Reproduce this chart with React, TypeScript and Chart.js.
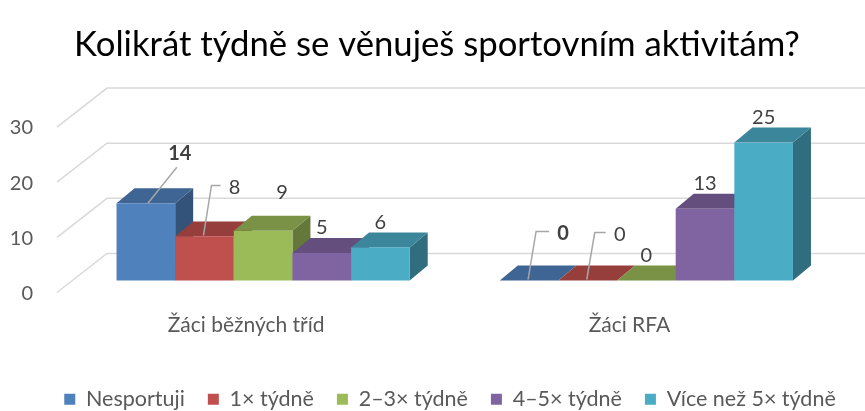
import React, { useEffect, useRef } from "react";
import { Chart, registerables } from "chart.js";

Chart.register(...registerables);

const TITLE = "Kolikrát týdně se věnuješ sportovním aktivitám?";
const categories = ["Žáci běžných tříd", "Žáci RFA"];
const seriesNames = ["Nesportuji", "1× týdně", "2–3× týdně", "4–5× týdně", "Více než 5× týdně"];
const nesportuji = [14, 0];
const jednou = [8, 0];
const dvaTri = [9, 0];
const ctyriPet = [5, 13];
const viceNez5 = [6, 25];
const seriesValues = [nesportuji, jednou, dvaTri, ctyriPet, viceNez5];
const seriesColors = ["#4F81BD", "#C0504D", "#9BBB59", "#8064A2", "#4BACC6"];
const yTicks = [0, 10, 20, 30];

// label placement tweaks (styling only): [dataset][category]
type LabelStyle = { dx: number; dy: number; bold?: boolean; leader?: "line" | "elbow" };
const labelStyles: LabelStyle[][] = [
  [{ dx: 34, dy: -50, bold: true, leader: "line" }, { dx: 34, dy: -47, bold: true, leader: "elbow" }],
  [{ dx: 30, dy: -49, leader: "elbow" }, { dx: 32, dy: -46, leader: "elbow" }],
  [{ dx: 19, dy: -38 }, { dx: 0, dy: -25 }],
  [{ dx: 0, dy: -25 }, { dx: 0, dy: -25 }],
  [{ dx: 0, dy: -25 }, { dx: 0, dy: -25 }],
];

const DEPTH_X = 18;
const DEPTH_Y = 15;
const TITLE_SHIFT = 13;
const LEGEND_SHIFT = 26;

function shade(hex: string, f: number) {
  const n = parseInt(hex.slice(1), 16);
  const r = Math.round(((n >> 16) & 255) * f);
  const g = Math.round(((n >> 8) & 255) * f);
  const b = Math.round((n & 255) * f);
  return `rgb(${r},${g},${b})`;
}

const shiftBlocks = {
  id: "shiftBlocks",
  afterLayout(chart: any) {
    if (chart.titleBlock) {
      chart.titleBlock.left += TITLE_SHIFT;
      chart.titleBlock.right += TITLE_SHIFT;
    }
    if (chart.legend) {
      chart.legend.left += LEGEND_SHIFT;
      chart.legend.right += LEGEND_SHIFT;
    }
  },
};

const grid3d = {
  id: "grid3d",
  beforeDatasetsDraw(chart: any) {
    const ctx = chart.ctx;
    const y = chart.scales.y;
    const left = chart.chartArea.left;
    ctx.save();
    ctx.strokeStyle = "#d9d9d9";
    ctx.lineWidth = 1.5;
    yTicks.forEach((v) => {
      const p = y.getPixelForValue(v);
      ctx.beginPath();
      ctx.moveTo(left - 14.5, p + 12);
      ctx.lineTo(left + 35.5, p - 27);
      ctx.lineTo(chart.width, p - 27);
      ctx.stroke();
    });
    ctx.restore();
  },
};

const bars3d = {
  id: "bars3d",
  beforeDatasetsDraw(chart: any) {
    const ctx = chart.ctx;
    const items: any[] = [];
    chart.data.datasets.forEach((ds: any, di: number) => {
      const meta = chart.getDatasetMeta(di);
      meta.data.forEach((el: any, ci: number) => {
        items.push({ el, di, ci, color: seriesColors[di] });
      });
    });
    items.sort((a, b) => a.el.x - b.el.x);
    ctx.save();
    items.forEach(({ el, color }) => {
      const l = el.x - el.width / 2;
      const r = el.x + el.width / 2;
      const top = el.y;
      const base = el.base;
      ctx.fillStyle = shade(color, 0.64);
      ctx.beginPath();
      ctx.moveTo(r, base);
      ctx.lineTo(r + DEPTH_X, base - DEPTH_Y);
      ctx.lineTo(r + DEPTH_X, top - DEPTH_Y);
      ctx.lineTo(r, top);
      ctx.closePath();
      ctx.fill();
      ctx.fillStyle = shade(color, 0.78);
      ctx.beginPath();
      ctx.moveTo(l, top);
      ctx.lineTo(l + DEPTH_X, top - DEPTH_Y);
      ctx.lineTo(r + DEPTH_X, top - DEPTH_Y);
      ctx.lineTo(r, top);
      ctx.closePath();
      ctx.fill();
      ctx.fillStyle = color;
      ctx.fillRect(l, top, r - l, base - top);
    });
    ctx.textAlign = "center";
    ctx.textBaseline = "middle";
    items.forEach(({ el, di, ci }) => {
      const st = labelStyles[di][ci];
      const lx = el.x + st.dx;
      const ly = el.y + st.dy;
      ctx.strokeStyle = "#a6a6a6";
      ctx.lineWidth = 1.5;
      if (st.leader === "line") {
        ctx.beginPath();
        ctx.moveTo(el.x + 2, el.y);
        ctx.lineTo(lx - 3, ly + 14);
        ctx.stroke();
      } else if (st.leader === "elbow") {
        ctx.beginPath();
        ctx.moveTo(el.x - 1, el.y - 1);
        ctx.lineTo(el.x + 7, ly - 2);
        ctx.lineTo(lx - 14, ly - 2);
        ctx.stroke();
      }
      ctx.fillStyle = "#404040";
      ctx.font = (st.bold ? "bold " : "") + "20px Lato";
      ctx.fillText(String(seriesValues[di][ci]), lx, ly);
    });
    ctx.restore();
    return false;
  },
};

export default function App() {
  const ref = useRef<HTMLCanvasElement>(null);
  useEffect(() => {
    if (!ref.current) return;
    Chart.defaults.font.family = "Lato";
    Chart.defaults.color = "#595959";
    const chart = new Chart(ref.current, {
      type: "bar",
      data: {
        labels: categories,
        datasets: seriesNames.map((name, i) => ({
          label: name,
          data: seriesValues[i],
          backgroundColor: seriesColors[i],
          borderWidth: 0,
          barPercentage: 1,
          categoryPercentage: 0.765,
        })),
      },
      options: {
        animation: false,
        responsive: false,
        maintainAspectRatio: false,
        layout: { padding: { left: 10, right: 27, top: 0, bottom: -9 } },
        plugins: {
          title: {
            display: true,
            text: TITLE,
            color: "#000000",
            font: { size: 34.7, weight: "normal" },
            padding: { top: 24.2, bottom: 49.2 },
          },
          legend: {
            position: "bottom",
            labels: {
              boxWidth: 11,
              boxHeight: 11,
              padding: 23,
              font: { size: 21.5 },
              color: "#595959",
            },
          },
          tooltip: { enabled: false },
        },
        scales: {
          x: {
            grid: { display: false, drawTicks: false },
            border: { display: false },
            ticks: { padding: 32, labelOffset: -17, font: { size: 21 }, color: "#595959" },
            afterFit: (s: any) => {
              s.height = 85;
            },
          },
          y: {
            min: 0,
            max: 30,
            grid: { display: false, drawTicks: false },
            border: { display: false },
            ticks: { stepSize: 10, padding: 38.5, labelOffset: 13, font: { size: 20 }, color: "#595959" },
            afterFit: (s: any) => {
              s.width = 61.5;
            },
          },
        },
      },
      plugins: [shiftBlocks, grid3d, bars3d],
    });
    return () => chart.destroy();
  }, []);
  return (
    <div style={{ position: "fixed", left: 0, top: 0, width: 865, height: 411, background: "#fff" }}>
      <canvas ref={ref} width={865} height={411} style={{ width: 865, height: 411 }} />
    </div>
  );
}
